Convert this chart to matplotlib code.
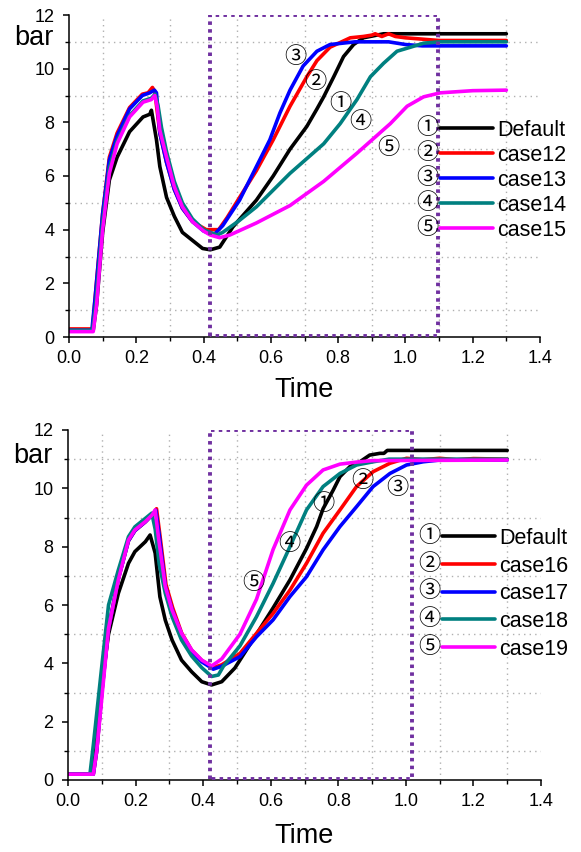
import matplotlib
matplotlib.use("Agg")
import matplotlib.pyplot as plt
from matplotlib.ticker import MultipleLocator

plt.rcParams['font.family'] = ['Liberation Sans', 'Noto Sans CJK JP', 'DejaVu Sans']

# ---------------- data: upper panel ----------------
top_labels = ["Default", "case12", "case13", "case14", "case15"]
top_default_t = [0, 0.072, 0.082, 0.1, 0.12, 0.143, 0.18, 0.22, 0.24, 0.245, 0.26, 0.27, 0.29, 0.313, 0.337,
                 0.367, 0.397, 0.42, 0.448, 0.487, 0.557, 0.607, 0.657, 0.707, 0.737, 0.757, 0.787, 0.816,
                 0.846, 0.875, 0.935, 1.3]
top_default_v = [0.25, 0.25, 1.2, 3.9, 5.85, 6.7, 7.65, 8.2, 8.3, 8.45, 7.35, 6.35, 5.2, 4.5, 3.9,
                 3.6, 3.3, 3.25, 3.35, 4.1, 5.1, 6.0, 7.0, 7.85, 8.5, 8.95, 9.7, 10.45,
                 10.9, 11.15, 11.3, 11.3]
top_case12_t = [0, 0.07, 0.08, 0.1, 0.12, 0.143, 0.18, 0.218, 0.235, 0.248, 0.255, 0.27, 0.29, 0.313, 0.337,
                0.367, 0.408, 0.42, 0.445, 0.47, 0.507, 0.557, 0.607, 0.657, 0.707, 0.737, 0.776, 0.836,
                0.875, 0.9, 0.91, 0.93, 0.95, 0.97, 1.0, 1.05, 1.1, 1.3]
top_case12_v = [0.3, 0.3, 1.8, 4.6, 6.7, 7.6, 8.55, 9.05, 9.1, 9.3, 9.15, 7.6, 6.5, 5.5, 4.8,
                4.3, 4.0, 4.0, 4.0, 4.45, 5.2, 6.2, 7.35, 8.6, 9.7, 10.3, 10.8, 11.15,
                11.2, 11.25, 11.3, 11.2, 11.3, 11.2, 11.15, 11.1, 11.05, 11.05]
top_case13_t = [0, 0.068, 0.078, 0.1, 0.12, 0.143, 0.18, 0.218, 0.24, 0.254, 0.26, 0.27, 0.29, 0.313, 0.337,
                0.367, 0.4, 0.43, 0.457, 0.507, 0.557, 0.597, 0.627, 0.657, 0.696, 0.737, 0.776, 0.85,
                0.95, 1.0, 1.05, 1.3]
top_case13_v = [0.25, 0.25, 1.5, 4.6, 6.6, 7.5, 8.5, 9.0, 9.1, 9.2, 9.1, 7.6, 6.5, 5.5, 4.8,
                4.3, 3.95, 3.8, 4.15, 5.1, 6.35, 7.35, 8.35, 9.2, 10.1, 10.65, 10.9, 11.0,
                11.0, 10.9, 10.85, 10.85]
top_case14_t = [0, 0.07, 0.08, 0.1, 0.12, 0.143, 0.18, 0.22, 0.245, 0.256, 0.265, 0.275, 0.29, 0.313, 0.337,
                0.367, 0.4, 0.44, 0.457, 0.507, 0.557, 0.657, 0.757, 0.806, 0.856, 0.896, 0.935, 0.975,
                1.015, 1.054, 1.1, 1.3]
top_case14_v = [0.25, 0.25, 1.3, 4.3, 6.3, 7.3, 8.25, 8.8, 8.9, 9.05, 8.6, 7.8, 6.9, 5.8, 5.0,
                4.4, 4.0, 3.8, 3.9, 4.35, 4.85, 6.1, 7.2, 7.95, 8.85, 9.7, 10.2, 10.65,
                10.8, 10.95, 11.0, 11.0]
top_case15_t = [0, 0.072, 0.082, 0.1, 0.12, 0.143, 0.18, 0.22, 0.245, 0.255, 0.262, 0.27, 0.29, 0.313, 0.337,
                0.367, 0.4, 0.42, 0.448, 0.478, 0.557, 0.657, 0.757, 0.856, 0.955, 1.005, 1.054, 1.104,
                1.2, 1.3]
top_case15_v = [0.2, 0.2, 1.2, 4.0, 6.1, 7.2, 8.2, 8.75, 8.85, 9.0, 8.6, 7.7, 6.7, 5.6, 4.85,
                4.3, 3.95, 3.8, 3.7, 3.8, 4.25, 4.9, 5.8, 6.85, 7.95, 8.6, 8.95, 9.1,
                9.18, 9.2]
top_mark_t = [0.806, 0.731, 0.672, 0.866, 0.949]
top_mark_v = [8.65, 9.47, 10.4, 7.98, 7.04]
top_box = [0.418, 1.098]

# ---------------- data: lower panel ----------------
bot_labels = ["Default", "case16", "case17", "case18", "case19"]
bot_default_t = [0, 0.072, 0.082, 0.1, 0.12, 0.149, 0.179, 0.198, 0.229, 0.243, 0.258, 0.272, 0.288, 0.308,
                 0.336, 0.366, 0.396, 0.425, 0.455, 0.494, 0.558, 0.607, 0.657, 0.706, 0.736, 0.755, 0.785,
                 0.805, 0.834, 0.864, 0.893, 0.923, 0.935, 0.945, 1.3]
bot_default_v = [0.2, 0.2, 1.0, 3.3, 5.0, 6.4, 7.43, 7.83, 8.17, 8.4, 7.78, 6.28, 5.48, 4.8,
                 4.11, 3.71, 3.37, 3.26, 3.37, 3.84, 5.0, 5.9, 6.86, 7.94, 8.69, 9.3, 9.94,
                 10.4, 10.74, 10.91, 11.14, 11.2, 11.2, 11.3, 11.3]
bot_case16_t = [0, 0.075, 0.085, 0.1, 0.12, 0.149, 0.179, 0.198, 0.229, 0.25, 0.262, 0.272, 0.29, 0.31,
                0.336, 0.366, 0.396, 0.43, 0.455, 0.509, 0.558, 0.607, 0.657, 0.706, 0.755, 0.805, 0.854,
                0.903, 0.953, 1.002, 1.05, 1.1, 1.15, 1.2, 1.3]
bot_case16_v = [0.2, 0.2, 1.0, 3.0, 5.2, 6.9, 8.2, 8.55, 8.85, 9.1, 9.3, 8.4, 6.7, 5.9,
                5.05, 4.45, 4.1, 3.85, 3.95, 4.34, 5.03, 5.71, 6.51, 7.43, 8.46, 9.26, 10.06,
                10.57, 10.86, 11.03, 10.98, 11.03, 10.98, 11.02, 11.0]
bot_case17_t = [0, 0.075, 0.085, 0.1, 0.12, 0.149, 0.179, 0.198, 0.229, 0.25, 0.26, 0.27, 0.288, 0.308,
                0.336, 0.366, 0.396, 0.43, 0.455, 0.509, 0.558, 0.607, 0.657, 0.706, 0.755, 0.805, 0.854,
                0.903, 0.953, 1.002, 1.051, 1.1, 1.3]
bot_case17_v = [0.2, 0.2, 1.0, 3.0, 5.2, 6.9, 8.2, 8.55, 8.85, 9.1, 9.25, 8.4, 6.65, 5.85,
                5.0, 4.4, 4.05, 3.8, 3.9, 4.23, 4.91, 5.49, 6.29, 6.97, 7.89, 8.69, 9.37,
                10.06, 10.51, 10.8, 10.91, 10.97, 10.97]
bot_case18_t = [0, 0.065, 0.075, 0.1, 0.12, 0.149, 0.179, 0.198, 0.229, 0.248, 0.258, 0.27, 0.288, 0.308,
                0.336, 0.366, 0.396, 0.425, 0.445, 0.46, 0.509, 0.558, 0.607, 0.657, 0.706, 0.755, 0.805,
                0.854, 0.903, 0.95, 1.3]
bot_case18_v = [0.2, 0.2, 1.2, 3.9, 6.0, 7.2, 8.34, 8.68, 8.97, 9.15, 8.6, 7.4, 6.4, 5.6,
                4.8, 4.25, 3.85, 3.55, 3.6, 3.9, 4.6, 5.6, 6.74, 8.0, 9.26, 10.06, 10.51,
                10.8, 10.91, 11.0, 11.0]
bot_case19_t = [0, 0.075, 0.085, 0.1, 0.12, 0.149, 0.179, 0.198, 0.229, 0.25, 0.258, 0.268, 0.288, 0.308,
                0.336, 0.366, 0.396, 0.425, 0.455, 0.509, 0.558, 0.607, 0.657, 0.706, 0.755, 0.805, 0.854,
                0.9, 1.3]
bot_case19_v = [0.2, 0.2, 1.0, 2.8, 5.2, 6.86, 8.23, 8.57, 8.86, 9.1, 9.26, 8.3, 6.63, 5.83,
                5.03, 4.46, 4.11, 3.91, 4.15, 5.0, 6.2, 7.9, 9.26, 10.11, 10.63, 10.83, 10.9,
                10.95, 10.97]
bot_mark_t = [0.757, 0.870, 0.976, 0.654, 0.550]
bot_mark_v = [9.43, 10.22, 10.01, 8.06, 6.75]
bot_box = [0.42, 1.017]

colors = ["#000000", "#ff0000", "#0000ff", "#008080", "#ff00ff"]
circled = ["\u2460", "\u2461", "\u2462", "\u2463", "\u2464"]
box_color = "#7030a0"


def style_axes(ax):
    ax.set_xlim(0, 1.4)
    ax.set_ylim(0, 12)
    ax.spines['top'].set_visible(False)
    ax.spines['right'].set_visible(False)
    ax.spines['left'].set_linewidth(1.1)
    ax.spines['bottom'].set_linewidth(1.1)
    ax.xaxis.set_major_locator(MultipleLocator(0.2))
    ax.xaxis.set_minor_locator(MultipleLocator(0.1))
    ax.yaxis.set_major_locator(MultipleLocator(2))
    ax.yaxis.set_minor_locator(MultipleLocator(1))
    ax.xaxis.set_major_formatter(plt.FuncFormatter(lambda v, p: "%.1f" % v))
    ax.tick_params(which='major', direction='out', length=4.5, width=1.1, labelsize=13)
    ax.tick_params(which='minor', direction='out', length=3, width=1.0)
    ax.tick_params(axis='y', pad=6)
    ax.tick_params(axis='x', pad=5)
    ax.grid(which='minor', color='#b0b0b0', linestyle=(0, (1, 3)), linewidth=1.0)
    ax.set_axisbelow(True)


def draw_panel(ax, series, labels, mark_t, mark_v, box, leg_anchor, spacing):
    handles = []
    for (t, v), c in zip(series, colors):
        ln, = ax.plot(t, v, color=c, linewidth=2.6, solid_capstyle='round', solid_joinstyle='round')
        handles.append(ln)
    x0, x1 = box
    ax.plot([x0, x0, x1, x1, x0], [0.05, 12, 12, 0.05, 0.05], color=box_color,
            linestyle=(0, (0.9, 1.1)), linewidth=2.8, zorder=5)
    for s, tx, vy in zip(circled, mark_t, mark_v):
        ax.text(tx, vy, s, fontsize=16, ha='center', va='center', zorder=6)
    leg = ax.legend(handles, labels, loc='upper left', bbox_to_anchor=leg_anchor, frameon=False,
                    fontsize=15.5, handlelength=2.45, handletextpad=0.2, labelspacing=spacing,
                    borderpad=0, borderaxespad=0)
    ax.text(-0.074, 0.907, "bar", transform=ax.transAxes, fontsize=19.5, ha='center', va='baseline')
    ax.set_xlabel("Time", fontsize=19.5)
    ax.xaxis.set_label_coords(0.5, -0.124)
    return leg


fig = plt.figure(figsize=(5.81, 8.52), dpi=100)
ax1 = fig.add_axes([69 / 581, 1 - 337 / 852, 471 / 581, 322 / 852])
ax2 = fig.add_axes([68 / 581, 1 - 780 / 852, 473 / 581, 350 / 852])
style_axes(ax1)
style_axes(ax2)

top_series = [(top_default_t, top_default_v), (top_case12_t, top_case12_v), (top_case13_t, top_case13_v),
              (top_case14_t, top_case14_v), (top_case15_t, top_case15_v)]
bot_series = [(bot_default_t, bot_default_v), (bot_case16_t, bot_case16_v), (bot_case17_t, bot_case17_v),
              (bot_case18_t, bot_case18_v), (bot_case19_t, bot_case19_v)]

leg1 = draw_panel(ax1, top_series, top_labels, top_mark_t, top_mark_v, top_box, (0.788, 0.675), 0.19)
leg2 = draw_panel(ax2, bot_series, bot_labels, bot_mark_t, bot_mark_v, bot_box, (0.791, 0.72), 0.31)
ax2.xaxis.set_label_coords(0.5, -0.123)

# circled numbers in front of each legend line
fig.canvas.draw()
renderer = fig.canvas.get_renderer()
W, H = fig.canvas.get_width_height()
for leg in (leg1, leg2):
    for s, ln in zip(circled, leg.get_lines()):
        bb = ln.get_window_extent(renderer)
        fig.text((bb.x0 - 2) / W, (bb.y0 + bb.y1) / 2 / H, s, fontsize=16, ha='right', va='center')

fig.savefig("out.png", dpi=100)
